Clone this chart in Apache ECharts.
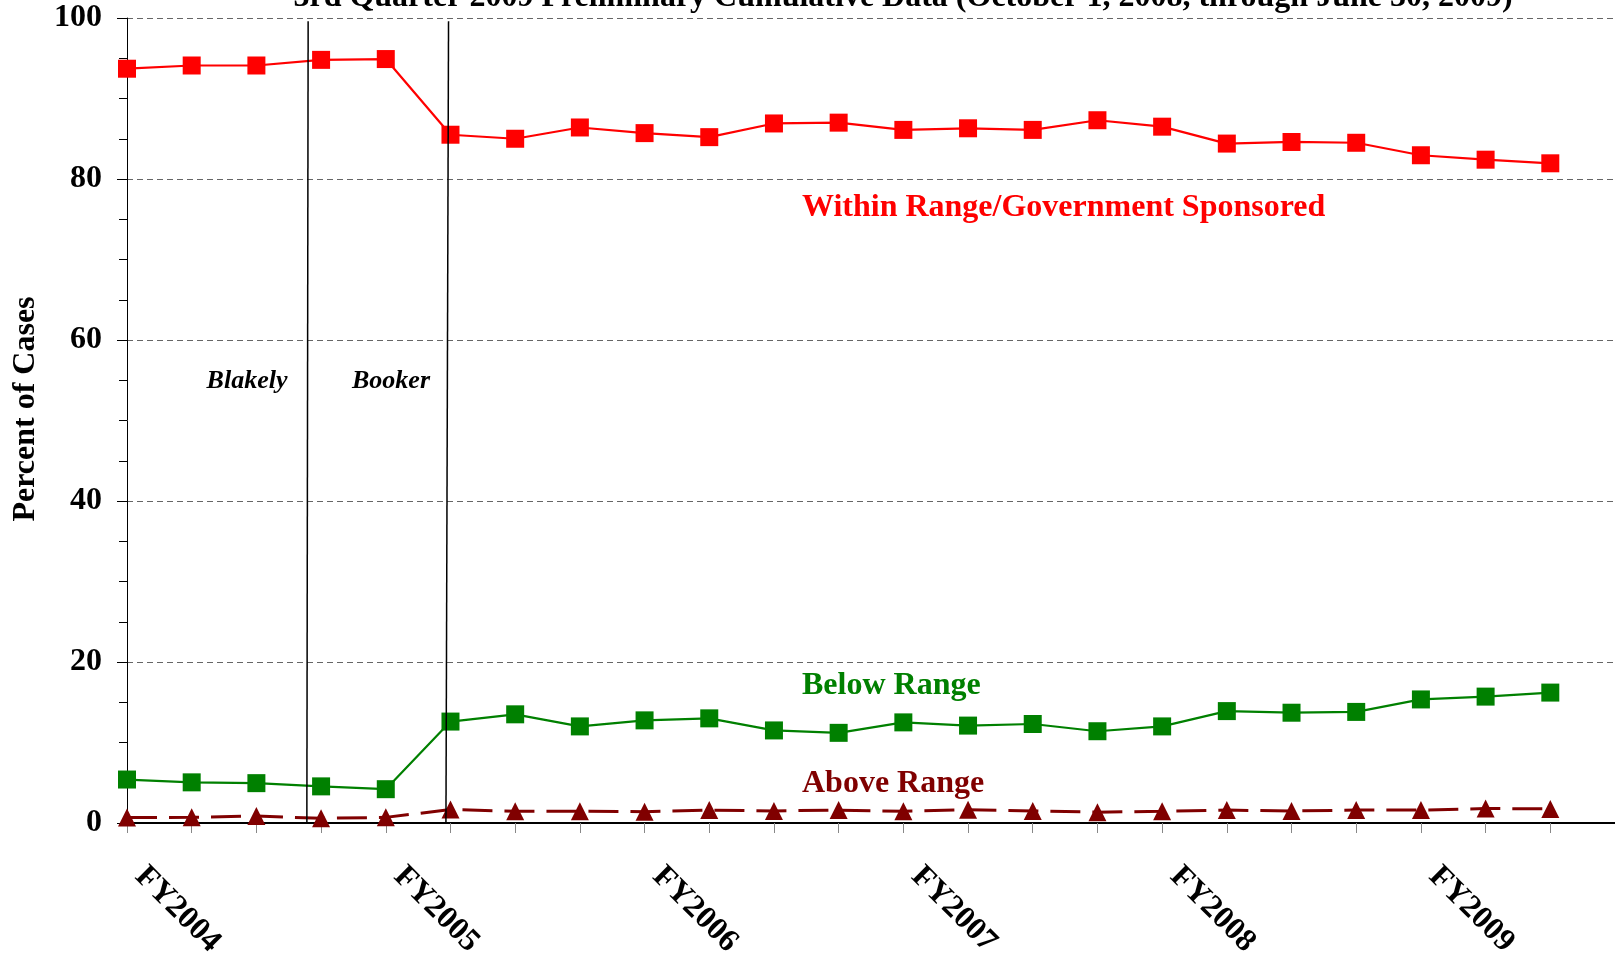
<!DOCTYPE html>
<html>
<head>
<meta charset="utf-8">
<script src="https://cdn.jsdelivr.net/npm/echarts@6/dist/echarts.min.js"></script>
<style>
html, body { margin: 0; padding: 0; background: #fff; }
#main { width: 1615px; height: 955px; }
</style>
</head>
<body>
<div id="main"></div>
<script>
'use strict';
// quarters FY2004 Q1 .. FY2009 Q3
var quarterLabels = ['FY2004', '', '', '', 'FY2005', '', '', '', 'FY2006', '', '', '',
    'FY2007', '', '', '', 'FY2008', '', '', '', 'FY2009', '', ''];
var withinRange = [93.7, 94.1, 94.1, 94.8, 94.9, 85.5, 85.0, 86.4, 85.7, 85.2, 86.9, 87.0,
    86.1, 86.3, 86.1, 87.3, 86.5, 84.4, 84.6, 84.5, 82.95, 82.4, 81.95];
var belowRange = [5.4, 5.05, 4.95, 4.55, 4.2, 12.6, 13.5, 12.0, 12.75, 13.0, 11.5, 11.2,
    12.5, 12.1, 12.3, 11.4, 12.0, 13.9, 13.7, 13.8, 15.35, 15.7, 16.2];
var aboveRange = [0.67, 0.7, 0.87, 0.58, 0.7, 1.67, 1.46, 1.46, 1.4, 1.6, 1.5, 1.6,
    1.45, 1.65, 1.5, 1.35, 1.45, 1.6, 1.5, 1.6, 1.6, 1.8, 1.75];
// Blakely / Booker decision lines (fractional quarter position)
var decisionLines = [
    { name: 'Blakely', top: 2.80, bottom: 2.78 },
    { name: 'Booker', top: 4.97, bottom: 4.93 }
];

function toPairs(arr) {
    var out = [];
    for (var i = 0; i < arr.length; i++) out.push([i, arr[i]]);
    return out;
}

var serif = '"Liberation Serif", "DejaVu Serif", serif';
var myChart = echarts.init(document.getElementById('main'));

// 注释文字
function label(text, x, y, color, size, italic, align) {
    return {
        type: 'text', x: x, y: y,
        style: {
            text: text, fontFamily: serif, fontWeight: 'bold', fontSize: size,
            fontStyle: italic ? 'italic' : 'normal', fill: color,
            align: align || 'left', verticalAlign: 'middle'
        }
    };
}

var option = {
    backgroundColor: '#fff',
    animation: false,
    grid: { left: 127, right: 0, top: 18, bottom: 132, containLabel: false, outerBoundsMode: 'none' },
    xAxis: {
        type: 'value',
        min: 0,
        max: 23,
        interval: 1,
        splitLine: { show: false },
        axisLine: { onZero: false, lineStyle: { color: '#000', width: 2 } },
        axisTick: { length: 10, lineStyle: { color: '#888', width: 1 } },
        axisLabel: {
            rotate: -45,
            margin: 36,
            padding: [0, 0, 0, 18],
            fontFamily: serif,
            fontWeight: 'bold',
            fontSize: 32,
            color: '#000',
            showMaxLabel: false,
            formatter: function (v) { return quarterLabels[v] || ''; }
        }
    },
    yAxis: {
        type: 'value',
        min: 0,
        max: 100,
        interval: 20,
        axisLine: { show: true, lineStyle: { color: '#000', width: 1 } },
        axisTick: { show: true, length: 10, lineStyle: { color: '#000' } },
        minorTick: { show: true, splitNumber: 4, length: 8, lineStyle: { color: '#000' } },
        splitLine: { show: true, lineStyle: { color: '#666', type: [6, 4], width: 1 } },
        axisLabel: { margin: 25, fontFamily: serif, fontWeight: 'bold', fontSize: 32, color: '#000' }
    },
    series: [
        {
            name: 'Within Range/Government Sponsored',
            type: 'line',
            data: toPairs(withinRange),
            symbol: 'rect',
            symbolSize: 18,
            itemStyle: { color: '#ff0000' },
            lineStyle: { color: '#ff0000', width: 2.2 },
            markLine: {
                silent: true,
                symbol: 'none',
                label: { show: false },
                lineStyle: { color: '#000', width: 1.5, type: 'solid' },
                data: decisionLines.map(function (d) {
                    return [{ coord: [d.top, 99.6] }, { coord: [d.bottom, 0] }];
                })
            }
        },
        {
            name: 'Below Range',
            type: 'line',
            data: toPairs(belowRange),
            symbol: 'rect',
            symbolSize: 18,
            itemStyle: { color: '#008000' },
            lineStyle: { color: '#008000', width: 2.2 }
        },
        {
            name: 'Above Range',
            type: 'line',
            data: toPairs(aboveRange),
            symbol: 'triangle',
            symbolSize: 18,
            itemStyle: { color: '#800000' },
            lineStyle: { color: '#800000', width: 3, type: [30, 12] }
        }
    ],
    graphic: [
        {
            type: 'text', x: 903, y: 14,
            style: {
                text: '3rd Quarter 2009 Preliminary Cumulative Data (October 1, 2008, through June 30, 2009)',
                fontFamily: serif, fontWeight: 'bold', fontSize: 32, fill: '#000',
                align: 'center', verticalAlign: 'bottom'
            }
        },
        {
            type: 'text', x: 26, y: 409, rotation: Math.PI / 2,
            style: {
                text: 'Percent of Cases', fontFamily: serif, fontWeight: 'bold', fontSize: 32,
                fill: '#000', align: 'center', verticalAlign: 'middle'
            }
        },
        label('Within Range/Government Sponsored', 802, 208, '#ff0000', 32),
        label('Below Range', 802, 686, '#008000', 32),
        label('Above Range', 802, 784, '#800000', 32),
        label('Blakely', 247, 381, '#000', 26, true, 'center'),
        label('Booker', 391, 381, '#000', 26, true, 'center')
    ]
};
myChart.setOption(option);
</script>
</body>
</html>
